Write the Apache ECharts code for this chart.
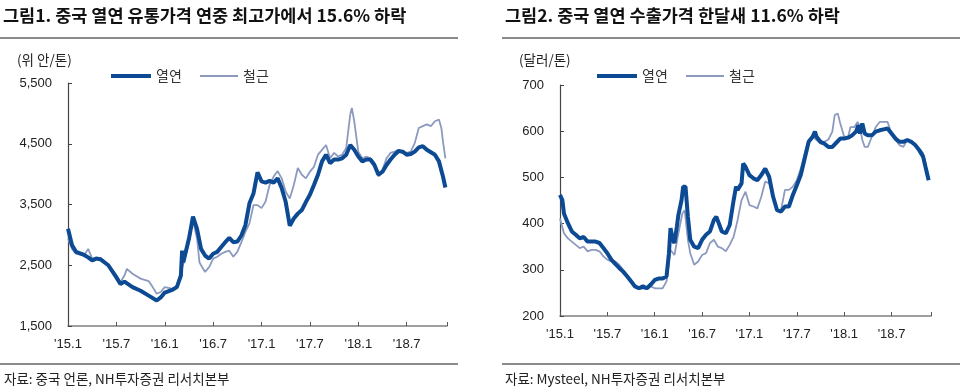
<!DOCTYPE html>
<html><head><meta charset="utf-8">
<script src="https://cdn.jsdelivr.net/npm/echarts@6/dist/echarts.min.js"></script>
<style>html,body{margin:0;padding:0;background:#fff}#c{width:960px;height:392px}</style>
</head><body><div id="c"></div>
<script>
// x positions are months since Jan 2015
const xTickLabels = ["'15.1","'15.7","'16.1","'16.7","'17.1","'17.7","'18.1","'18.7"];
const seriesNames = ['열연','철근'];

// Chart 1: domestic distribution price (CNY/ton)
const hrc1Months = [0,0.5,1,2,2.5,3,3.5,4,5,6,6.5,7,8,9,10,11,11.5,12,13,13.5,14,14.15,14.3,14.5,15,15.5,16,16.5,17,17.5,18,18.5,19,19.5,20,20.5,21,21.5,22,22.5,23,23.5,24,24.5,25,25.5,26,26.5,27,27.5,28,28.5,29,29.5,30,30.5,31,31.5,32,32.5,33,33.5,34,34.5,35,35.2,35.5,36,36.5,37,37.5,38,38.5,39,39.5,40,40.5,41,41.5,42,42.5,43,43.5,44,44.5,45,45.5,46,46.5,46.8];
const hrc1Values = [3100,2830,2720,2670,2630,2580,2610,2600,2500,2300,2190,2230,2140,2080,2000,1920,1970,2050,2100,2140,2330,2740,2550,2550,2940,3300,3100,2770,2660,2610,2690,2720,2800,2880,2950,2880,2890,2990,3160,3520,3680,4030,3880,3860,3890,3860,3930,3770,3540,3150,3270,3350,3410,3540,3660,3820,3990,4210,4320,4180,4240,4240,4260,4320,4480,4510,4400,4290,4210,4240,4240,4150,3990,4040,4150,4240,4320,4380,4370,4320,4330,4370,4440,4460,4400,4360,4320,4210,3960,3780];
const reb1Months = [0,0.5,1,2,2.5,3,4,5,6,6.5,7,7.3,8,9,10,10.5,11,11.5,12,13,13.5,14,14.5,15,15.5,16,16.3,16.5,17,17.5,18,18.5,19,19.5,20,20.5,21,21.5,22,22.5,23,23.5,24,24.5,25,25.5,26,26.5,27,27.5,28,28.5,29,29.5,30,30.5,31,31.5,32,32.5,33,33.5,34,34.5,35,35.2,35.5,36,36.5,37,37.5,38,38.5,39,39.5,40,40.5,41,41.5,42,42.5,43,43.5,44,44.5,45,45.5,46,46.3,46.5,46.8];
const reb1Values = [2940,2770,2690,2660,2770,2610,2620,2500,2330,2220,2330,2440,2360,2280,2240,2140,2030,2060,2140,2110,2170,2390,2610,2880,3240,2940,2550,2500,2390,2470,2610,2640,2690,2720,2740,2640,2720,2880,3050,3190,3490,3490,3440,3550,3820,3960,4050,3930,3710,3600,3820,4100,3990,3930,4040,4120,4320,4400,4480,4260,4350,4290,4320,4430,4980,5090,4870,4370,4260,4290,4260,4180,3960,4070,4260,4350,4370,4400,4350,4350,4370,4510,4760,4790,4820,4790,4870,4900,4760,4540,4260];

// Chart 2: export price (USD/ton)
const hrc2Months = [0,0.3,0.5,1,1.5,2,2.5,3,3.5,4,4.5,5,5.5,6,6.5,7,7.5,8,8.5,9,9.5,10,10.5,11,11.5,12,12.5,13,13.5,13.8,14,14.3,14.5,14.8,15,15.4,15.6,15.9,16.2,16.5,17,17.5,18,18.5,19,19.5,19.8,20.2,20.5,21,21.5,22,22.3,22.5,23,23.2,23.5,24,24.5,25,25.5,26,26.5,27,27.5,28,28.5,29,29.5,30,30.5,31,31.5,32,32.3,32.5,33,33.5,34,34.5,35,35.5,36,36.5,37,37.5,37.8,38,38.3,38.6,39,39.5,40,40.5,41,41.5,42,42.5,43,43.5,44,44.5,45,45.5,46,46.3,46.7];
const hrc2Values = [462,451,422,401,383,376,368,371,361,361,361,358,347,336,322,313,304,296,286,275,264,260,264,260,268,278,281,281,286,336,390,365,358,393,419,451,480,480,415,365,350,347,365,376,383,408,415,397,383,379,397,451,480,473,487,530,523,505,498,494,505,519,501,458,429,426,437,437,462,483,505,541,577,588,599,588,577,573,566,566,575,584,584,586,591,599,613,595,617,595,591,591,599,602,604,606,595,584,577,577,581,577,570,559,545,523,494];
const reb2Months = [0,0.5,1,1.5,2,2.5,3,3.5,4,4.5,5,5.5,6,6.5,7,7.5,8,8.5,9,9.5,10,10.5,11,11.5,12,12.5,13,13.5,14,14.5,15,15.5,15.8,16.2,16.5,17,17.5,18,18.5,19,19.5,20,20.5,21,21.5,22,22.3,22.5,23,23.5,24,24.5,25,25.5,26,26.5,27,27.5,28,28.5,29,29.5,30,30.5,31,31.5,32,32.5,33,33.5,34,34.5,34.8,35.2,35.5,36,36.5,36.8,37.3,37.7,38,38.3,38.6,39,39.5,40,40.5,41,41.5,42,42.5,43,43.5,44,44.5,45,45.5,46,46.3,46.7];
const reb2Values = [411,379,368,361,354,347,350,340,343,343,340,329,322,318,318,311,300,286,275,264,258,260,258,264,260,260,260,275,343,332,379,422,429,365,336,311,318,332,336,358,365,350,347,340,354,372,393,408,451,469,440,437,433,458,491,487,458,429,429,473,473,480,494,519,552,577,588,581,573,577,582,599,635,638,617,588,588,609,609,620,609,581,566,566,588,609,620,620,620,595,581,570,566,582,577,570,563,552,530,498];

const zip = (a, b) => a.map((m, i) => [m, b[i]]);
const C_HRC = '#0C4A93', C_REB = '#8D9ABF';
const FONT = '"Liberation Sans", Arial, "Noto Sans CJK KR", sans-serif';
const KFONT = '"Noto Sans CJK KR", "Liberation Sans", sans-serif';

function xAxisCfg(gi) {
  return {
    type: 'value', gridIndex: gi, min: 0, max: 47, interval: 6,
    axisLine: { lineStyle: { color: '#808080', width: 1.5 } },
    axisTick: { inside: true, length: 4, lineStyle: { color: '#555' } },
    splitLine: { show: false },
    axisLabel: {
      color: '#222', fontFamily: FONT, fontSize: 13, margin: 12,
      formatter: v => xTickLabels[Math.round(v / 6)] || ''
    }
  };
}
function yAxisCfg(gi, min, max, interval, fmt) {
  return {
    type: 'value', gridIndex: gi, min, max, interval,
    axisLine: { show: true, lineStyle: { color: '#444', width: 1.2 } },
    axisTick: { show: true, inside: true, length: 4, lineStyle: { color: '#444' } },
    splitLine: { show: false },
    axisLabel: { color: '#222', fontFamily: FONT, fontSize: 13, margin: 16, formatter: fmt }
  };
}
function line(name, data, xi, color, width, z) {
  return {
    type: 'line', name, data, xAxisIndex: xi, yAxisIndex: xi,
    symbol: 'none', color, z,
    lineStyle: { color, width }
  };
}
function legendCfg(left, name, w, h) {
  return {
    left, top: 64, itemWidth: w, itemHeight: h, icon: 'rect',
    data: [name], selectedMode: false,
    textStyle: { fontFamily: KFONT, fontSize: 14, color: '#333' }
  };
}

const chart = echarts.init(document.getElementById('c'));
chart.setOption({
  animation: false,
  backgroundColor: '#fff',
  grid: [
    { left: 68, top: 83, width: 379, height: 243, containLabel: false },
    { left: 560, top: 85, width: 371, height: 231, containLabel: false }
  ],
  xAxis: [xAxisCfg(0), xAxisCfg(1)],
  yAxis: [
    yAxisCfg(0, 1500, 5500, 1000, v => v.toLocaleString('en-US')),
    yAxisCfg(1, 200, 700, 100, v => String(v))
  ],
  legend: [
    legendCfg(106, seriesNames[0], 40, 4),
    legendCfg(195, seriesNames[1], 38, 2),
    legendCfg(592, seriesNames[0], 40, 4),
    legendCfg(681, seriesNames[1], 38, 2)
  ],
  series: [
    line(seriesNames[1], zip(reb1Months, reb1Values), 0, C_REB, 1.8, 2),
    line(seriesNames[0], zip(hrc1Months, hrc1Values), 0, C_HRC, 4, 3),
    line(seriesNames[1], zip(reb2Months, reb2Values), 1, C_REB, 1.8, 2),
    line(seriesNames[0], zip(hrc2Months, hrc2Values), 1, C_HRC, 4, 3)
  ],
  graphic: [
    { type: 'text', left: 3, top: 7, style: { text: '그림1. 중국 열연 유통가격 연중 최고가에서 15.6% 하락', font: 'bold 17.5px ' + KFONT, fill: '#111' } },
    { type: 'text', left: 505, top: 7, style: { text: '그림2. 중국 열연 수출가격 한달새 11.6% 하락', font: 'bold 17.5px ' + KFONT, fill: '#111' } },
    { type: 'rect', shape: { x: 0, y: 37, width: 458, height: 2 }, style: { fill: '#8a8a8a' } },
    { type: 'rect', shape: { x: 502, y: 37, width: 458, height: 2 }, style: { fill: '#8a8a8a' } },
    { type: 'rect', shape: { x: 0, y: 363, width: 458, height: 2 }, style: { fill: '#8a8a8a' } },
    { type: 'rect', shape: { x: 502, y: 363, width: 458, height: 2 }, style: { fill: '#8a8a8a' } },
    { type: 'text', left: 17, top: 53, style: { text: '(위 안/톤)', font: '13.5px ' + KFONT, fill: '#222' } },
    { type: 'text', left: 519, top: 53, style: { text: '(달러/톤)', font: '13.5px ' + KFONT, fill: '#222' } },
    { type: 'text', left: 4, top: 372, style: { text: '자료: 중국 언론, NH투자증권 리서치본부', font: '13.5px ' + KFONT, fill: '#222' } },
    { type: 'text', left: 505, top: 372, style: { text: '자료: Mysteel, NH투자증권 리서치본부', font: '13.5px ' + KFONT, fill: '#222' } }
  ]
});
</script></body></html>
